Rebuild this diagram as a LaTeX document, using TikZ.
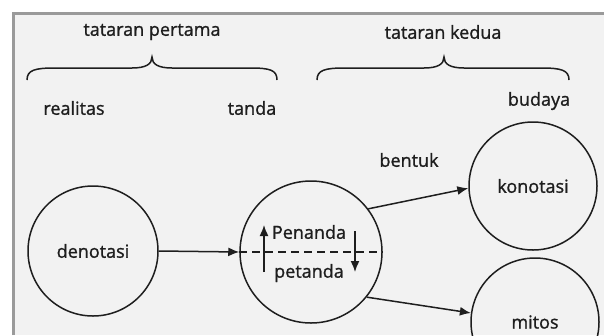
\documentclass[tikz,border=0pt]{standalone}
\usepackage{fontspec}
\setmainfont[FakeBold=1.2]{Open Sans}
\usetikzlibrary{arrows.meta}
\definecolor{bg}{HTML}{F2F2F2}
\definecolor{frame}{HTML}{9A9A9A}
\definecolor{ink}{HTML}{1E1E1E}
\begin{document}
\begin{tikzpicture}[x=1pt,y=-1pt,
  lbl/.style={text=ink,inner sep=0pt,font=\fontsize{18}{20}\selectfont},
  circ/.style={circle,draw=ink,line width=1.5pt,inner sep=0pt,text=ink,font=\fontsize{18}{20}\selectfont},
  arr/.style={draw=ink,line width=1.5pt,-{Latex[length=11pt,width=9pt]}},
  brc/.style={draw=ink,line width=1.5pt}]
\useasboundingbox (0,0) rectangle (604,335);
\clip (0,0) rectangle (604,335);
\fill[white] (0,0) rectangle (604,335);
\fill[bg] (13,13) rectangle (604,335);
\draw[frame,line width=3pt] (13,335) -- (13,13) -- (604,13);
% headings
\node[lbl] (t1) at (152,32) {tataran pertama};
\node[lbl] (t2) at (443,32) {tataran kedua};
% braces
\draw[brc] (27,80) .. controls (27,70) and (35,68) .. (55,68) -- (132,68)
  .. controls (146,68) and (152,64) .. (152,57)
  .. controls (152,64) and (158,68) .. (172,68) -- (250,68)
  .. controls (270,68) and (277,70) .. (277,80);
\draw[brc] (317,80) .. controls (317,70) and (325,68) .. (345,68) -- (424,68)
  .. controls (438,68) and (444,64) .. (444,57)
  .. controls (444,64) and (450,68) .. (464,68) -- (541,68)
  .. controls (561,68) and (569,70) .. (569,80);
% labels
\node[lbl] (realitas) at (74,108) {realitas};
\node[lbl] (tanda) at (252,108) {tanda};
\node[lbl] (budaya) at (539,101) {budaya};
\node[lbl] (bentuk) at (409,160) {bentuk};
% circles
\node[circ,minimum size=130pt] (den) at (93,251) {denotasi};
\node[circ,minimum size=142pt] (mid) at (311,252) {};
\node[circ,minimum size=128pt] (kon) at (533,186) {konotasi};
\node[circ,minimum size=128pt] (mit) at (535,322) {mitos};
% inside middle circle
\draw[ink,line width=1.3pt,dash pattern=on 8pt off 5pt] (mid.west) -- (mid.east);
\node[lbl] (pen) at (309,232) {Penanda};
\node[lbl] (pet) at (309,273) {petanda};
\coordinate (u1) at (264,272);
\coordinate (u2) at (264,225);
\coordinate (d1) at (355,231);
\coordinate (d2) at (355,272);
\draw[arr] (u1) -- (u2);
\draw[arr] (d1) -- (d2);
% connectors
\draw[arr] (den.east) -- (mid.west);
\draw[arr] (mid.37) -- (kon.182);
\draw[arr] (mid.-39) -- (mit.172);
\end{tikzpicture}
\end{document}
